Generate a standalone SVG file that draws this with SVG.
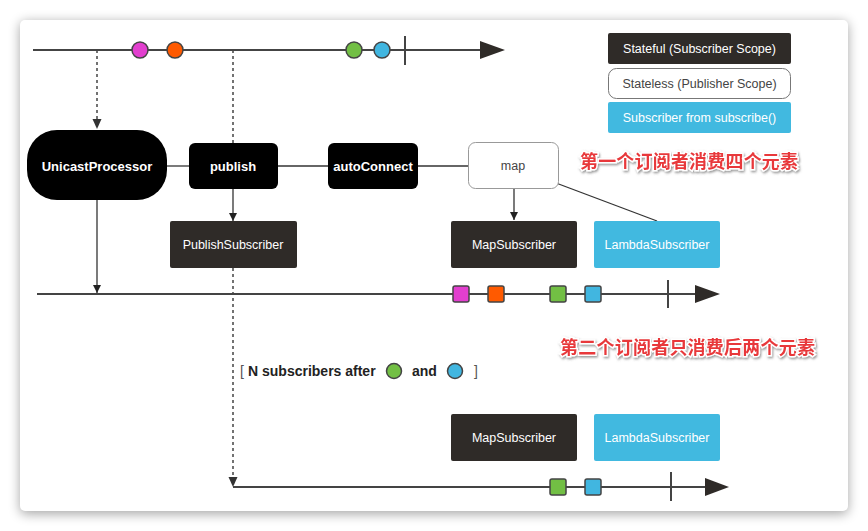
<svg xmlns="http://www.w3.org/2000/svg" width="868" height="531" viewBox="0 0 868 531">
<defs>
<filter id="sh" x="-10%" y="-10%" width="120%" height="120%"><feGaussianBlur stdDeviation="6"/></filter>
<filter id="tsh" x="-5%" y="-30%" width="110%" height="160%"><feDropShadow dx="1" dy="1.5" stdDeviation="1" flood-color="#666" flood-opacity="0.7"/></filter>
<marker id="ah" viewBox="0 0 10 10" refX="10" refY="5" markerWidth="8" markerHeight="8" markerUnits="userSpaceOnUse" orient="auto"><path d="M0,0 L10,5 L0,10 z" fill="#222"/></marker>
<style>
.ln{stroke:#444;stroke-width:2;fill:none}
.cn{stroke:#333;stroke-width:1.3;fill:none}
.ds{stroke:#444;stroke-width:1.5;fill:none;stroke-dasharray:3,3}
.big{fill:#2f2b28}
.blk{fill:#000}
.blu{fill:#41b9e0}
.wt{fill:#fff;font-family:"Liberation Sans",Arial,sans-serif;font-size:12.5px;text-anchor:middle}
.wb{fill:#fff;font-family:"Liberation Sans",Arial,sans-serif;font-size:13px;font-weight:bold;text-anchor:middle}
.gt{fill:#444;font-family:"Liberation Sans",Arial,sans-serif;font-size:12.5px;text-anchor:middle}
.cjk{fill:#e8383a;stroke:#fff;stroke-width:3;paint-order:stroke;font-family:"Noto Sans CJK SC",sans-serif;font-size:18px;font-weight:bold}
.lab{fill:#222;font-family:"Liberation Sans",Arial,sans-serif;font-size:14px;font-weight:bold}
.br{fill:#555;font-family:"Liberation Sans",Arial,sans-serif;font-size:14px}
.ev{stroke:#444;stroke-width:1.5}
</style>
</defs>
<rect width="868" height="531" fill="#fff"/>
<rect x="20" y="22" width="828" height="492" rx="5" fill="#000" opacity="0.35" filter="url(#sh)"/>
<rect x="20" y="20" width="828" height="491" rx="5" fill="#fff"/>

<g id="connectors">
<line class="ln" x1="33" y1="50" x2="482" y2="50"/>
<path d="M480,41 L505,50 L480,59 z" fill="#2f2b28"/>
<line class="ln" x1="405" y1="36" x2="405" y2="65"/>
<line class="ds" x1="97" y1="50" x2="97" y2="120"/>
<path d="M92.5,119 L101.5,119 L97,129 z" fill="#333"/>
<line class="ds" x1="233" y1="50" x2="233" y2="143"/>
<line class="cn" x1="166" y1="166" x2="189" y2="166"/>
<line class="cn" x1="278" y1="166" x2="328" y2="166"/>
<line class="cn" x1="418" y1="166" x2="468" y2="166"/>
<line class="cn" x1="514" y1="188" x2="514" y2="220" marker-end="url(#ah)"/>
<line class="cn" x1="556" y1="183" x2="657" y2="221"/>
<line class="cn" x1="233" y1="189" x2="233" y2="221" marker-end="url(#ah)"/>
<line class="cn" x1="97" y1="200" x2="97" y2="293" marker-end="url(#ah)"/>
<line class="ln" x1="37" y1="294" x2="697" y2="294"/>
<path d="M695,285 L720,294 L695,303 z" fill="#2f2b28"/>
<line class="ln" x1="668" y1="280" x2="668" y2="308"/>
<line class="ds" x1="233" y1="268" x2="233" y2="478"/>
<path d="M228.5,477 L237.5,477 L233,487 z" fill="#333"/>
<line class="ln" x1="233" y1="487" x2="707" y2="487"/>
<path d="M705,478 L729,487 L705,496 z" fill="#2f2b28"/>
<line class="ln" x1="671" y1="472" x2="671" y2="501"/>
</g>

<g id="events-top">
<circle class="ev" cx="140" cy="50" r="8" fill="#e23fcf"/>
<circle class="ev" cx="175" cy="50" r="8" fill="#ff5a00"/>
<circle class="ev" cx="354" cy="50" r="8" fill="#72bf44"/>
<circle class="ev" cx="382" cy="50" r="8" fill="#41b6e0"/>
</g>
<g id="events-mid">
<rect class="ev" x="453" y="286" width="16" height="16" rx="2" fill="#e23fcf"/>
<rect class="ev" x="488" y="286" width="16" height="16" rx="2" fill="#ff5a00"/>
<rect class="ev" x="550" y="286" width="16" height="16" rx="2" fill="#72bf44"/>
<rect class="ev" x="585" y="286" width="16" height="16" rx="2" fill="#41b6e0"/>
</g>
<g id="events-bottom">
<rect class="ev" x="550" y="479" width="16" height="16" rx="2" fill="#72bf44"/>
<rect class="ev" x="585" y="479" width="16" height="16" rx="2" fill="#41b6e0"/>
</g>

<g id="unicast"><rect class="blk" x="27" y="130" width="140" height="70" rx="30"/><text class="wb" x="97" y="171">UnicastProcessor</text></g>
<g id="publish"><rect class="blk" x="189" y="143" width="89" height="46" rx="6"/><text class="wb" x="233" y="171">publish</text></g>
<g id="autoConnect"><rect class="blk" x="328" y="143" width="90" height="46" rx="6"/><text class="wb" x="373" y="171">autoConnect</text></g>
<g id="map"><rect x="468.5" y="142.5" width="90" height="46" rx="7" fill="#fff" stroke="#999" stroke-width="1"/><text class="gt" x="513" y="170">map</text></g>
<g id="publishSubscriber"><rect class="big" x="170" y="221" width="127" height="47" rx="2"/><text class="wt" x="233" y="249">PublishSubscriber</text></g>
<g id="mapSubscriber1"><rect class="big" x="451" y="221" width="126" height="47" rx="2"/><text class="wt" x="514" y="249">MapSubscriber</text></g>
<g id="lambdaSubscriber1"><rect class="blu" x="594" y="221" width="126" height="47" rx="2"/><text class="wt" x="657" y="249">LambdaSubscriber</text></g>
<g id="mapSubscriber2"><rect class="big" x="451" y="414" width="126" height="47" rx="2"/><text class="wt" x="514" y="442">MapSubscriber</text></g>
<g id="lambdaSubscriber2"><rect class="blu" x="594" y="414" width="126" height="47" rx="2"/><text class="wt" x="657" y="442">LambdaSubscriber</text></g>

<g id="legend">
<rect class="big" x="608" y="33" width="183" height="31" rx="2"/><text class="wt" x="699.5" y="53">Stateful (Subscriber Scope)</text>
<rect x="608.5" y="68.5" width="182" height="30" rx="8" fill="#fff" stroke="#777" stroke-width="1"/><text class="gt" x="699.5" y="88">Stateless (Publisher Scope)</text>
<rect class="blu" x="608" y="102" width="183" height="31" rx="2"/><text class="wt" x="699.5" y="122">Subscriber from subscribe()</text>
</g>

<g id="notes">
<text class="cjk" x="580" y="168" textLength="218" filter="url(#tsh)">第一个订阅者消费四个元素</text>
<text class="cjk" x="560" y="354" textLength="255" filter="url(#tsh)">第二个订阅者只消费后两个元素</text>
</g>

<g id="label">
<text class="br" x="240" y="376">[</text>
<text class="lab" x="248" y="376">N subscribers after</text>
<circle class="ev" cx="394" cy="371" r="7.5" fill="#72bf44"/>
<text class="lab" x="412" y="376">and</text>
<circle class="ev" cx="455" cy="371" r="7.5" fill="#41b6e0"/>
<text class="br" x="474" y="376">]</text>
</g>
</svg>
